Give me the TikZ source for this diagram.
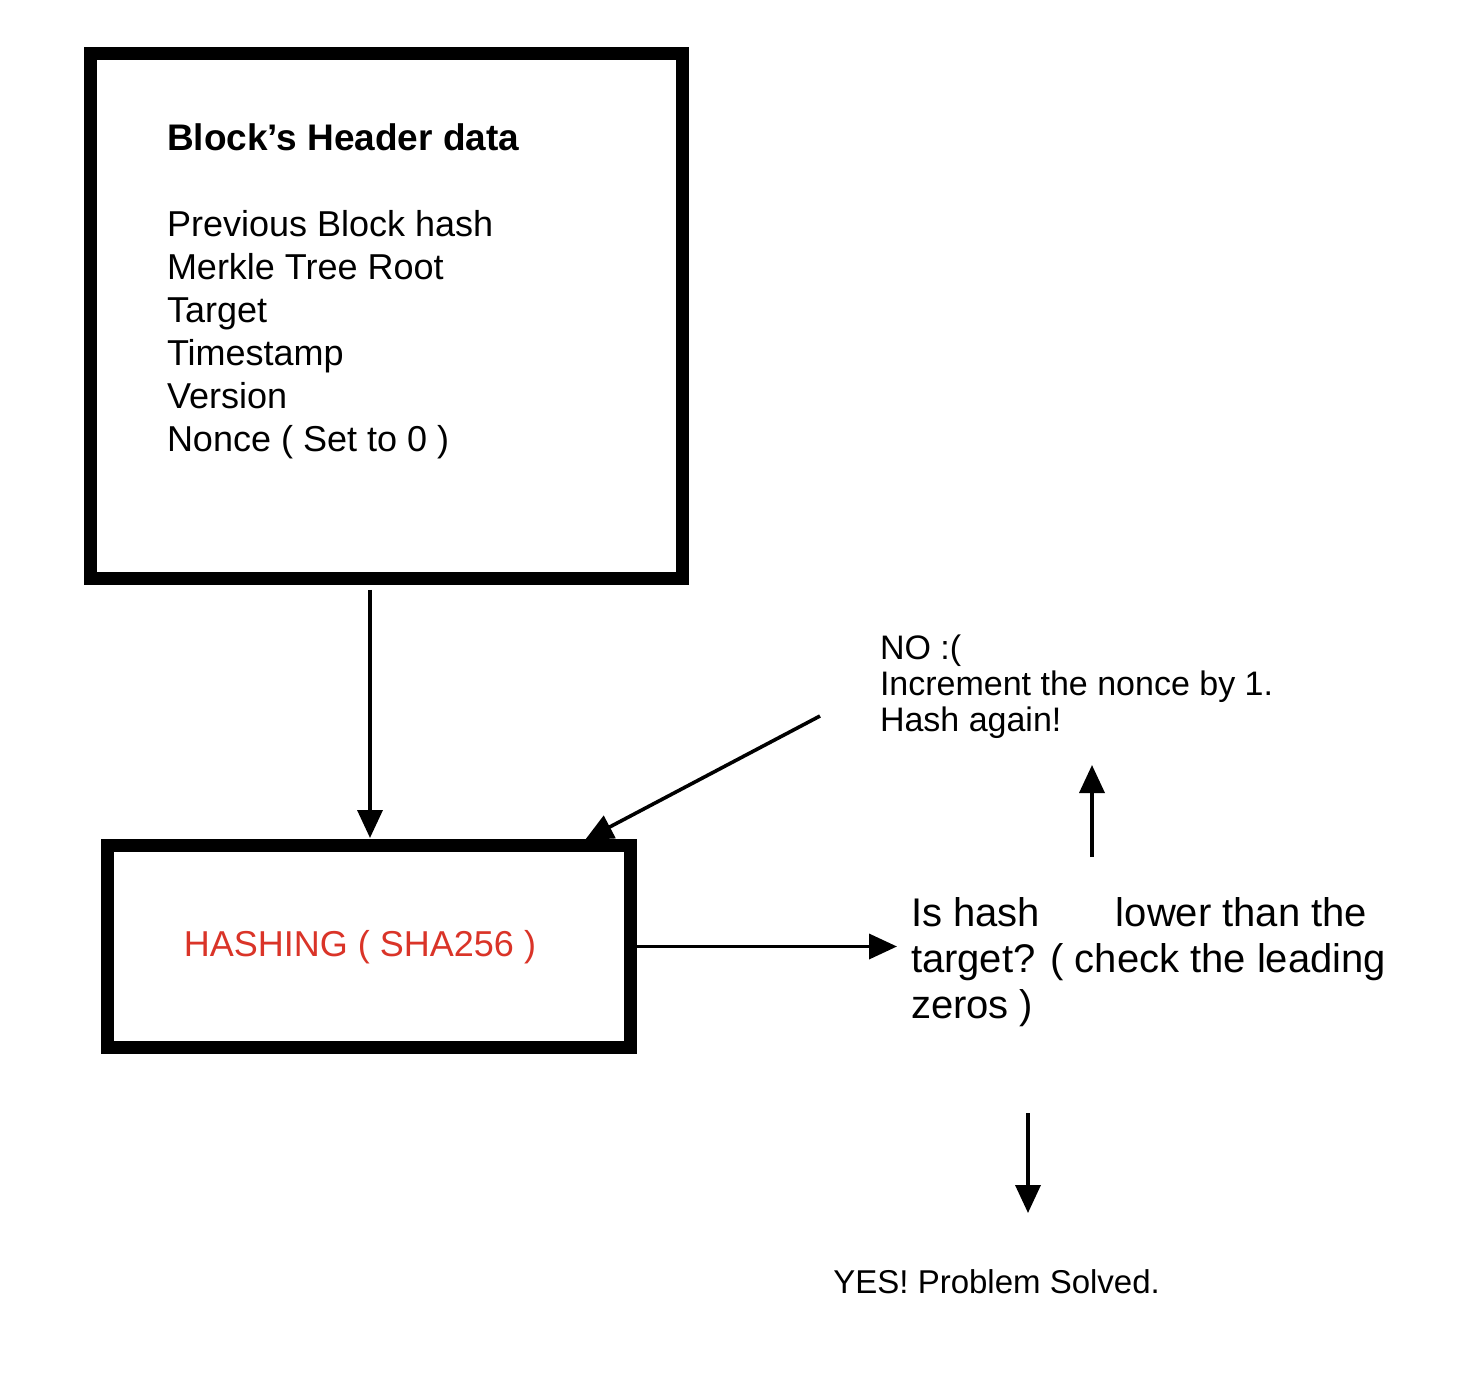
\documentclass[tikz,border=0pt]{standalone}
\usepackage{fontspec}
\setmainfont{Liberation Sans}
\usetikzlibrary{arrows.meta}
\definecolor{hashred}{RGB}{218,52,40}
\begin{document}
\begin{tikzpicture}[x=0.5pt,y=-0.5pt,
  thickbox/.style={draw=black,line width=6.5pt,inner sep=0pt},
  arr/.style={line width=1.8pt,-{Triangle[width=12.5pt,length=14pt]}},
  txt/.style={inner sep=0pt,outer sep=0pt,align=left,anchor=north west}]
\useasboundingbox (0,0) rectangle (1468,1374);
\fill[white] (0,0) rectangle (1468,1374);
% boxes
\node[thickbox,minimum width=296pt,minimum height=262.5pt] (hdrbox) at (386.5,316) {};
\node[thickbox,minimum width=261.5pt,minimum height=101pt] (hashbox) at (369,946.5) {};
% texts
\node[txt,font=\fontsize{18pt}{21.5pt}\selectfont] (hdr) at (167,124)
  {{\fontsize{18.5pt}{21.5pt}\selectfont\bfseries Block’s Header data}\\[21.5pt]
   Previous Block hash\\
   Merkle Tree Root\\
   Target\\
   Timestamp\\
   Version\\
   Nonce ( Set to 0 )};
\node[inner sep=0pt,text=hashred,font=\fontsize{18pt}{21.5pt}\selectfont,anchor=base] (hashlbl) at (360,956) {HASHING ( SHA256 )};
\node[txt,font=\fontsize{20pt}{23pt}\selectfont] (q) at (911,898)
  {Is hash\hspace{38pt}lower than the\\
   target? ( check the leading\\
   zeros )};
\node[txt,font=\fontsize{17pt}{18pt}\selectfont] (no) at (880,635)
  {NO :(\\
   Increment the nonce by 1.\\
   Hash again!};
\node[inner sep=0pt,anchor=base west,font=\fontsize{16.5pt}{19pt}\selectfont] (yes) at (833,1293) {YES! Problem Solved.};
% connector end points
\coordinate (a1s) at (370,590);
\coordinate (a1e) at (370,838);
\coordinate (a2s) at (820,716);
\coordinate (a2e) at (585,840);
\coordinate (a3e) at (897,946.5);
\coordinate (a4s) at (1092,857);
\coordinate (a4e) at (1092,765);
\coordinate (a5s) at (1028,1113);
\coordinate (a5e) at (1028,1213);
% connectors
\draw[arr] (a1s) -- (a1e);
\draw[arr] (a2s) -- (a2e);
\draw[arr] (hashbox.east) -- (a3e);
\draw[arr] (a4s) -- (a4e);
\draw[arr] (a5s) -- (a5e);
\end{tikzpicture}
\end{document}
